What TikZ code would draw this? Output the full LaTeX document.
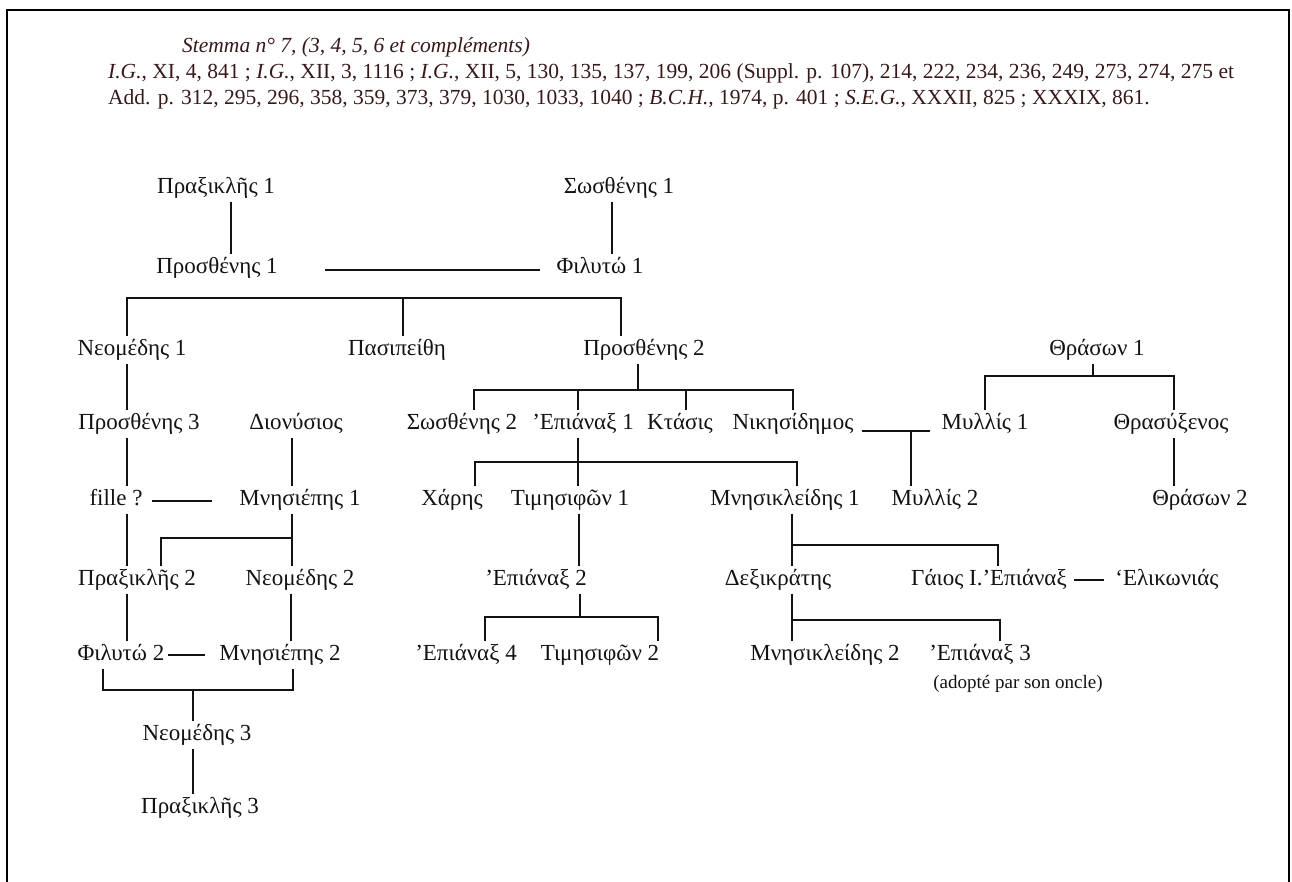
\documentclass[tikz,border=0pt]{standalone}
\usepackage{fontspec}
\usetikzlibrary{calc}
\setmainfont{Liberation Serif}
\newfontfamily\gkfont{Liberation Serif}
\definecolor{ink}{RGB}{20,18,18}
\definecolor{headink}{RGB}{55,25,25}
\begin{document}
\begin{tikzpicture}[x=1pt,y=-1pt,
  person/.style={font=\gkfont\fontsize{23}{26}\selectfont, text=ink, inner xsep=0pt, inner ysep=3pt, text height=16pt, text depth=5pt},
  head/.style={font=\fontsize{21.5}{25}\selectfont, text=headink, inner sep=0pt, anchor=base west},
  link/.style={draw=ink, line width=1.8pt},
  frame/.style={draw=black, line width=2.6pt}]
\useasboundingbox (0,0) rectangle (1292,882);
\draw[frame] (7,882) -- (7,10) -- (1289,10) -- (1289,882);
% header
\node[head] (h1) at (182,53) {\itshape Stemma n° 7, (3, 4, 5, 6 et compléments)};
\node[head] (h2) at (108,79) {\textit{I.G.}, XI, 4, 841 ; \textit{I.G.}, XII, 3, 1116 ; \textit{I.G.}, XII, 5, 130, 135, 137, 199, 206 (Suppl. p. 107), 214, 222, 234, 236, 249, 273, 274, 275 et};
\node[head] (h3) at (108,105) {Add. p. 312, 295, 296, 358, 359, 373, 379, 1030, 1033, 1040 ; \textit{B.C.H.}, 1974, p. 401 ; \textit{S.E.G.}, XXXII, 825 ; XXXIX, 861.};
% persons
\node[person] (pk1) at (216,188) {Πραξικλῆς 1};
\node[person] (sw1) at (619,188) {Σωσθένης 1};
\node[person] (pr1) at (217,268) {Προσθένης 1};
\node[person] (ph1) at (600,268) {Φιλυτώ 1};
\node[person] (nm1) at (132,350) {Νεομέδης 1};
\node[person] (pa) at (397,350) {Πασιπείθη};
\node[person] (pr2) at (644,350) {Προσθένης 2};
\node[person] (th1) at (1097,350) {Θράσων 1};
\node[person] (pr3) at (139,424) {Προσθένης 3};
\node[person] (di) at (296,424) {Διονύσιος};
\node[person] (sw2) at (462,424) {Σωσθένης 2};
\node[person] (ep1) at (583,424) {’Επιάναξ 1};
\node[person] (kt) at (680,424) {Κτάσις};
\node[person] (ni) at (793,424) {Νικησίδημος};
\node[person] (my1) at (985,424) {Μυλλίς 1};
\node[person] (thx) at (1171,424) {Θρασύξενος};
\node[person] (fi) at (116,500) {fille ?};
\node[person] (mn1) at (300,500) {Μνησιέπης 1};
\node[person] (ch) at (452,500) {Χάρης};
\node[person] (ti1) at (570,500) {Τιμησιφῶν 1};
\node[person] (mk1) at (785,500) {Μνησικλείδης 1};
\node[person] (my2) at (935,500) {Μυλλίς 2};
\node[person] (th2) at (1200,500) {Θράσων 2};
\node[person] (pk2) at (137,580) {Πραξικλῆς 2};
\node[person] (nm2) at (300,580) {Νεομέδης 2};
\node[person] (ep2) at (536,580) {’Επιάναξ 2};
\node[person] (dx) at (778,580) {Δεξικράτης};
\node[person] (ga) at (989,580) {Γάιος Ι.’Επιάναξ};
\node[person] (el) at (1167,580) {‘Ελικωνιάς};
\node[person] (ph2) at (121,655) {Φιλυτώ 2};
\node[person] (mn2) at (280,655) {Μνησιέπης 2};
\node[person] (ep4) at (466,655) {’Επιάναξ 4};
\node[person] (ti2) at (600,655) {Τιμησιφῶν 2};
\node[person] (mk2) at (825,655) {Μνησικλείδης 2};
\node[person] (ep3) at (980,655) {’Επιάναξ 3};
\node[person, font=\fontsize{19}{22}\selectfont] (ad) at (1018,683) {(adopté par son oncle)};
\node[person] (nm3) at (197,735) {Νεομέδης 3};
\node[person] (pk3) at (200,808) {Πραξικλῆς 3};
% connectors: descent lines
\draw[link] (231,0 |- pk1.south) -- (231,0 |- pr1.north);
\draw[link] (612,0 |- sw1.south) -- (612,0 |- ph1.north);
\draw[link] (127,0 |- nm1.north) -- (127,298) -- (621,298) -- (621,0 |- pr2.north);
\draw[link] (403,298) -- (403,0 |- pa.north);
\draw[link] (127,0 |- nm1.south) -- (127,0 |- pr3.north);
\draw[link] (638,0 |- pr2.south) -- (638,390);
\draw[link] (474,0 |- sw2.north) -- (474,390) -- (793,390) -- (793,0 |- ni.north);
\draw[link] (578,390) -- (578,0 |- ep1.north);
\draw[link] (686,390) -- (686,0 |- kt.north);
\draw[link] (1093,0 |- th1.south) -- (1093,376);
\draw[link] (985,0 |- my1.north) -- (985,376) -- (1174,376) -- (1174,0 |- thx.north);
\draw[link] (911,431) -- (911,0 |- my2.north);
\draw[link] (127,0 |- pr3.south) -- (127,0 |- fi.north);
\draw[link] (292,0 |- di.south) -- (292,0 |- mn1.north);
\draw[link] (578,0 |- ep1.south) -- (578,0 |- ti1.north);
\draw[link] (475,0 |- ch.north) -- (475,462) -- (797,462) -- (797,0 |- mk1.north);
\draw[link] (1174,0 |- thx.south) -- (1174,0 |- th2.north);
\draw[link] (292,0 |- mn1.south) -- (292,0 |- nm2.north);
\draw[link] (161,0 |- pk2.north) -- (161,538) -- (292,538);
\draw[link] (127,0 |- fi.south) -- (127,0 |- pk2.north);
\draw[link] (579,0 |- ti1.south) -- (579,0 |- ep2.north);
\draw[link] (792,0 |- mk1.south) -- (792,0 |- dx.north);
\draw[link] (792,545) -- (998,545) -- (998,0 |- ga.north);
\draw[link] (127,0 |- pk2.south) -- (127,0 |- ph2.north);
\draw[link] (291,0 |- nm2.south) -- (291,0 |- mn2.north);
\draw[link] (580,0 |- ep2.south) -- (580,617);
\draw[link] (485,0 |- ep4.north) -- (485,617) -- (658,617) -- (658,0 |- ti2.north);
\draw[link] (792,0 |- dx.south) -- (792,0 |- mk2.north);
\draw[link] (792,620) -- (1000,620) -- (1000,0 |- ep3.north);
\draw[link] (103,0 |- ph2.south) -- (103,690) -- (293,690) -- (293,0 |- mn2.south);
\draw[link] (193,690) -- (193,0 |- nm3.north);
\draw[link] (193,0 |- nm3.south) -- (193,0 |- pk3.north);
% marriage lines
\draw[link] ($(pr1.center -| 325,0)+(0,2)$) -- ($(ph1.center -| 540,0)+(0,2)$);
\draw[link] ($(ni.center -| 862,0)+(0,7)$) -- ($(my1.center -| 930,0)+(0,7)$);
\draw[link] ($(fi.center -| 152,0)+(0,1)$) -- ($(mn1.center -| 212,0)+(0,1)$);
\draw[link] (ga.center -| 1074,0) -- (el.center -| 1104,0);
\draw[link] (ph2.center -| 168,0) -- (mn2.center -| 205,0);
\end{tikzpicture}
\end{document}
